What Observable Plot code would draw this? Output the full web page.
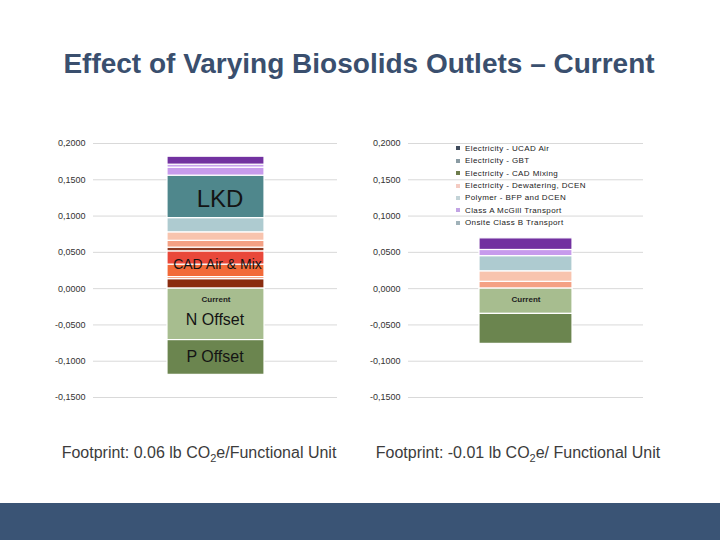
<!DOCTYPE html>
<html>
<head>
<meta charset="utf-8">
<script src="https://cdn.jsdelivr.net/npm/d3@7"></script>
<script src="https://cdn.jsdelivr.net/npm/@observablehq/plot@0.6"></script>
<style>
  html, body { margin: 0; padding: 0; background: #fff; }
  #page { position: relative; width: 720px; height: 540px; overflow: hidden; background: #fff;
          font-family: Arial, "Liberation Sans", sans-serif; }
  #title { position: absolute; left: 0; top: 49px; width: 718px; text-align: center;
           font-weight: bold; font-size: 28px; line-height: 30px; color: #3a4f6e; }
  .chart { position: absolute; top: 130px; }
  #left { left: 40px; }
  #right { left: 360px; }
  .foot { position: absolute; top: 444px; width: 320px; text-align: center; font-size: 16px;
          line-height: 18px; color: #3c3c3c; white-space: nowrap; }
  .foot sub { font-size: 11px; vertical-align: -4px; line-height: 0; }
  #footL { left: 39px; }
  #footR { left: 358px; }
  #band { position: absolute; left: 0; top: 503px; width: 720px; height: 37px; background: #3a5475; }
  #legend { position: absolute; left: 456px; top: 142px; font-size: 8px; letter-spacing: 0.4px; color: #222; }
  #legend .row { display: flex; align-items: center; height: 12.45px; white-space: nowrap; }
  #legend .sw { width: 4px; height: 4px; margin-right: 5px; flex: none; }
</style>
</head>
<body>
<div id="page">
  <div id="title">Effect of Varying Biosolids Outlets – Current</div>
  <div id="left" class="chart"></div>
  <div id="right" class="chart"></div>
  <div id="legend"></div>
  <div id="footL" class="foot">Footprint: 0.06 lb CO<sub>2</sub>e/Functional Unit</div>
  <div id="footR" class="foot">Footprint: -0.01 lb CO<sub>2</sub>e/ Functional Unit</div>
  <div id="band"></div>
</div>
<script>
// ---------- data ----------
const categories = ["Current"];
const yTicks = [-0.15, -0.1, -0.05, 0, 0.05, 0.1, 0.15, 0.2];

// left bar (bottom to top for positives, then negatives downward)
const leftNames = [
  "Electricity - UCAD Air", "Electricity - GBT", "CAD Mixing", "CAD Air",
  "Electricity - CAD Mixing", "Electricity - Dewatering, DCEN", "Polymer - BFP and DCEN",
  "Lime", "LKD", "Class A McGill Transport", "Onsite Class B Transport", "Landfill Transport",
  "N Offset", "P Offset"
];
const leftValues = [
  0.0131, 0.0028, 0.0172, 0.0183,
  0.0051, 0.0094, 0.0117,
  0.0196, 0.0585, 0.0110, 0.0041, 0.0110,
  -0.0709, -0.0479
];

// right bar
const rightNames = [
  "Electricity - Dewatering, DCEN", "Polymer - BFP and DCEN", "Lime",
  "Class A McGill Transport", "Landfill Transport", "N Offset", "P Offset"
];
const rightValues = [0.0094, 0.0145, 0.0209, 0.0085, 0.0160, -0.0348, -0.0413];

// labels drawn inside the left bar, grouped by the segments they describe
const leftLabelText = ["LKD", "CAD Air & Mix", "N Offset", "P Offset"];
const leftLabelParts = [["LKD"], ["CAD Air", "CAD Mixing"], ["N Offset"], ["P Offset"]];

// legend (as shown in the reference)
const legendNames = [
  "Electricity - UCAD Air", "Electricity - GBT", "Electricity - CAD Mixing",
  "Electricity - Dewatering, DCEN", "Polymer - BFP and DCEN",
  "Class A McGill Transport", "Onsite Class B Transport"
];

// ---------- styles ----------
const palette = {
  "Electricity - UCAD Air": "#8a2c0f",
  "Electricity - GBT": "#f1784a",
  "CAD Mixing": "#f26a38",
  "CAD Air": "#e9483a",
  "Electricity - CAD Mixing": "#8c3a22",
  "Electricity - Dewatering, DCEN": "#f4a184",
  "Polymer - BFP and DCEN": "#f8c4ae",
  "Lime": "#aecbd0",
  "LKD": "#4f878c",
  "Class A McGill Transport": "#c79bec",
  "Onsite Class B Transport": "#c9a2ee",
  "Landfill Transport": "#7231a0",
  "N Offset": "#a7bd8f",
  "P Offset": "#6b854f"
};
const legendColors = ["#3f4b5c", "#8a9ba3", "#6e7c4c", "#f4cbc2", "#c3d3d7", "#c2a4e4", "#a0b2b9"];
const labelStyle = {
  "LKD": {fontSize: 24, dx: 4, dy: 2.5},
  "CAD Air & Mix": {fontSize: 14, dx: 1.5, dy: 0},
  "N Offset": {fontSize: 16, dx: -1, dy: 5.5},
  "P Offset": {fontSize: 16, dx: -1, dy: -0.8}
};

const fmt = d => d.toFixed(4).replace(".", ",");

function rows(names, values) {
  return names.map((n, i) => ({bar: categories[0], name: n, value: values[i]}));
}

// stacked extents (positives up, negatives down), computed from the values
function stackExtents(data) {
  let pos = 0, neg = 0;
  return data.map(d => {
    let y1, y2;
    if (d.value >= 0) { y1 = pos; pos += d.value; y2 = pos; }
    else { y1 = neg; neg += d.value; y2 = neg; }
    return {...d, y1, y2};
  });
}

function chart(data, opts, extraMarks) {
  return Plot.plot({
    width: opts.width,
    height: 277,
    marginTop: 13,
    marginBottom: 10,
    marginLeft: opts.marginLeft,
    marginRight: opts.marginRight,
    style: {fontFamily: "Arial, 'Liberation Sans', sans-serif", background: "transparent"},
    x: {type: "band", domain: categories, padding: 0.43, axis: null},
    y: {domain: [-0.15, 0.2], axis: null},
    color: {domain: Object.keys(palette), range: Object.values(palette)},
    marks: [
      Plot.ruleY(yTicks, {stroke: "#d9d9d9", strokeWidth: 1}),
      Plot.axisY(yTicks, {tickSize: 0, tickPadding: 8, tickFormat: fmt, fontSize: 9, fill: "#333", label: null}),
      Plot.barY(data, {x: "bar", y: "value", fill: "name", order: null, stroke: "#ffffff", strokeWidth: 1.2}),
      Plot.text(categories, {x: d => d, y: () => 0, dy: 11, text: d => d, fontSize: 8, fill: "#222",
                             fontWeight: "bold", style: "letter-spacing:0.3px"}),
      ...extraMarks
    ]
  });
}

// left chart
const leftData = rows(leftNames, leftValues);
const leftExt = stackExtents(leftData);
const leftLabels = leftLabelText.map((t, i) => {
  const segs = leftExt.filter(d => leftLabelParts[i].includes(d.name));
  const lo = d3.min(segs, d => Math.min(d.y1, d.y2));
  const hi = d3.max(segs, d => Math.max(d.y1, d.y2));
  return {bar: categories[0], text: t, mid: (lo + hi) / 2};
});
const labelMarks = leftLabels.map(l => Plot.text([l], {
  x: "bar", y: "mid", text: "text", fill: "#141414",
  fontSize: labelStyle[l.text].fontSize, dx: labelStyle[l.text].dx, dy: labelStyle[l.text].dy
}));

document.getElementById("left").append(
  chart(leftData, {width: 300, marginLeft: 53, marginRight: 3}, labelMarks)
);

// right chart
const rightData = rows(rightNames, rightValues);
document.getElementById("right").append(
  chart(rightData, {width: 290, marginLeft: 48, marginRight: 7}, [])
);

// legend
const lg = document.getElementById("legend");
legendNames.forEach((n, i) => {
  const r = document.createElement("div");
  r.className = "row";
  const s = document.createElement("span");
  s.className = "sw";
  s.style.background = legendColors[i];
  const t = document.createElement("span");
  t.textContent = n;
  r.append(s, t);
  lg.append(r);
});
</script>
</body>
</html>
